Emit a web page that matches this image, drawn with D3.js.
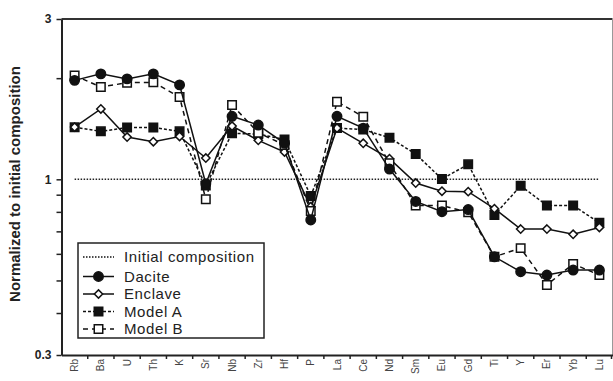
<!DOCTYPE html>
<html>
<head>
<meta charset="utf-8">
<script src="https://cdn.jsdelivr.net/npm/d3@7"></script>
<style>
  body { margin: 0; background: #fff; }
  svg { display: block; font-family: Arial, "Liberation Sans", sans-serif; }
</style>
</head>
<body>
<svg id="chart" width="613" height="381"></svg>
<script>
// Elements along the x axis
const elements = ["Rb", "Ba", "U", "Th", "K", "Sr", "Nb", "Zr", "Hf", "P", "La", "Ce", "Nd", "Sm", "Eu", "Gd", "Ti", "Y", "Er", "Yb", "Lu"];

// Normalized concentrations
const dacite  = [1.97, 2.06, 1.99, 2.06, 1.91, 0.97, 1.54, 1.45, 1.28, 0.757, 1.54, 1.42, 1.073, 0.859, 0.801, 0.813, 0.588, 0.531, 0.519, 0.537, 0.537];
const enclave = [1.43, 1.62, 1.336, 1.294, 1.341, 1.157, 1.441, 1.306, 1.206, 0.829, 1.421, 1.28, 1.152, 0.975, 0.922, 0.919, 0.818, 0.711, 0.711, 0.686, 0.719];
const modelA  = [1.428, 1.389, 1.426, 1.426, 1.389, 0.958, 1.37, 1.364, 1.314, 0.892, 1.421, 1.406, 1.33, 1.189, 1.002, 1.108, 0.783, 0.957, 0.836, 0.836, 0.742];
const modelB  = [2.037, 1.882, 1.939, 1.944, 1.758, 0.872, 1.664, 1.376, 1.265, 0.805, 1.702, 1.536, 1.116, 0.836, 0.836, 0.798, 0.588, 0.624, 0.485, 0.56, 0.519];

const initialValue = 1;
const yTicks = [0.3, 0.4, 0.5, 0.6, 0.7, 0.8, 0.9, 1, 2, 3];
const yLabels = [0.3, 1, 3];

const svg = d3.select("#chart");
const margin = { left: 61.5, right: 612.5, top: 19, bottom: 355 };

const x = d3.scaleBand().domain(elements).range([margin.left, margin.right]);
const y = d3.scaleLog().domain([0.3, 3]).range([margin.bottom, margin.top]);
const cx = d => x(d) + x.bandwidth() / 2;

// frame
svg.append("line").attr("x1", margin.left).attr("x2", margin.right).attr("y1", margin.top).attr("y2", margin.top)
  .style("stroke", "#333").style("stroke-width", 2);
svg.append("line").attr("x1", margin.right).attr("x2", margin.right).attr("y1", margin.top).attr("y2", margin.bottom)
  .style("stroke", "#999").style("stroke-width", 1);

// y axis
const yAxis = svg.append("g")
  .attr("transform", `translate(${margin.left},0)`)
  .call(d3.axisLeft(y).tickValues(yTicks).tickSize(5).tickSizeOuter(0)
    .tickFormat(d => yLabels.includes(d) ? d3.format("~g")(d) : ""));
yAxis.select(".domain").style("stroke", "#222").style("stroke-width", 2);
yAxis.selectAll(".tick line").style("stroke", "#222").style("stroke-width", 1.5);
yAxis.selectAll("text").style("font-size", "12px").style("font-weight", "bold").style("fill", "#222")
  .attr("x", -10);

// x axis: labels at band centres, ticks at band edges
const xAxis = svg.append("g")
  .attr("transform", `translate(0,${margin.bottom})`)
  .call(d3.axisBottom(x).tickSize(0).tickSizeOuter(0));
xAxis.select(".domain").style("stroke", "#222").style("stroke-width", 2);
xAxis.selectAll("text")
  .style("font-size", "10px").style("fill", "#444")
  .style("text-anchor", "end")
  .attr("transform", "rotate(-90)")
  .attr("x", -4).attr("y", 0).attr("dy", "0.35em");
xAxis.selectAll(".edge")
  .data(elements.slice(1).map(e => x(e)).concat([margin.right - 1]))
  .join("line")
  .attr("x1", d => d).attr("x2", d => d)
  .attr("y1", 0).attr("y2", 4)
  .style("stroke", "#222").style("stroke-width", 1.5);

// y title
svg.append("text")
  .attr("transform", `translate(20,${(margin.top + margin.bottom) / 2 - 3}) rotate(-90)`)
  .attr("text-anchor", "middle")
  .style("font-size", "15px").style("font-weight", "bold").style("fill", "#222")
  .text("Normalized to initial composition");

// initial composition reference line
svg.append("line")
  .attr("x1", cx(elements[0])).attr("x2", cx(elements[elements.length - 1]))
  .attr("y1", y(initialValue)).attr("y2", y(initialValue))
  .style("stroke", "#222").style("stroke-width", 1.5).style("stroke-dasharray", "1.5,1.5");

const series = [
  { name: "Model A", values: modelA, dash: "3,2", symbol: d3.symbolSquare, size: 72, fill: "#111" },
  { name: "Enclave", values: enclave, dash: null, symbol: d3.symbolDiamond2, size: 44, fill: "#fff" },
  { name: "Model B", values: modelB, dash: "5,4", symbol: d3.symbolSquare, size: 72, fill: "#fff" },
  { name: "Dacite", values: dacite, dash: null, symbol: d3.symbolCircle, size: 70, fill: "#111" }
];

const line = d3.line().x((d, i) => cx(elements[i])).y(d => y(d));

series.forEach(s => {
  svg.append("path")
    .datum(s.values)
    .attr("d", line)
    .style("fill", "none").style("stroke", "#111").style("stroke-width", 1.5)
    .style("stroke-dasharray", s.dash);
  svg.append("g").selectAll("path")
    .data(s.values)
    .join("path")
    .attr("transform", (d, i) => `translate(${cx(elements[i])},${y(d)})`)
    .attr("d", d3.symbol(s.symbol, s.size))
    .style("fill", s.fill).style("stroke", "#111").style("stroke-width", 1.5);
});

// legend
const legend = svg.append("g").attr("transform", "translate(78,243)");
legend.append("rect").attr("width", 186).attr("height", 95)
  .style("fill", "#fff").style("stroke", "#222").style("stroke-width", 1.5);

const legendItems = [
  { name: "Initial composition", dash: "1.5,1.5", symbol: null },
  series[3], series[1], series[0], series[2]
];
const rowY = [14, 33.5, 51, 68.5, 86];
legendItems.forEach((s, i) => {
  const g = legend.append("g").attr("transform", `translate(0,${rowY[i]})`);
  g.append("line").attr("x1", 5).attr("x2", 36).attr("y1", 0).attr("y2", 0)
    .style("stroke", "#111").style("stroke-width", 1.5).style("stroke-dasharray", s.dash);
  if (s.symbol) {
    g.append("path").attr("transform", "translate(20.5,0)")
      .attr("d", d3.symbol(s.symbol, s.size))
      .style("fill", s.fill).style("stroke", "#111").style("stroke-width", 1.5);
  }
  g.append("text").attr("x", 46).attr("dy", "0.35em")
    .style("font-size", "15px").style("letter-spacing", "0.6px").style("fill", "#222")
    .text(s.name);
});
</script>
</body>
</html>
